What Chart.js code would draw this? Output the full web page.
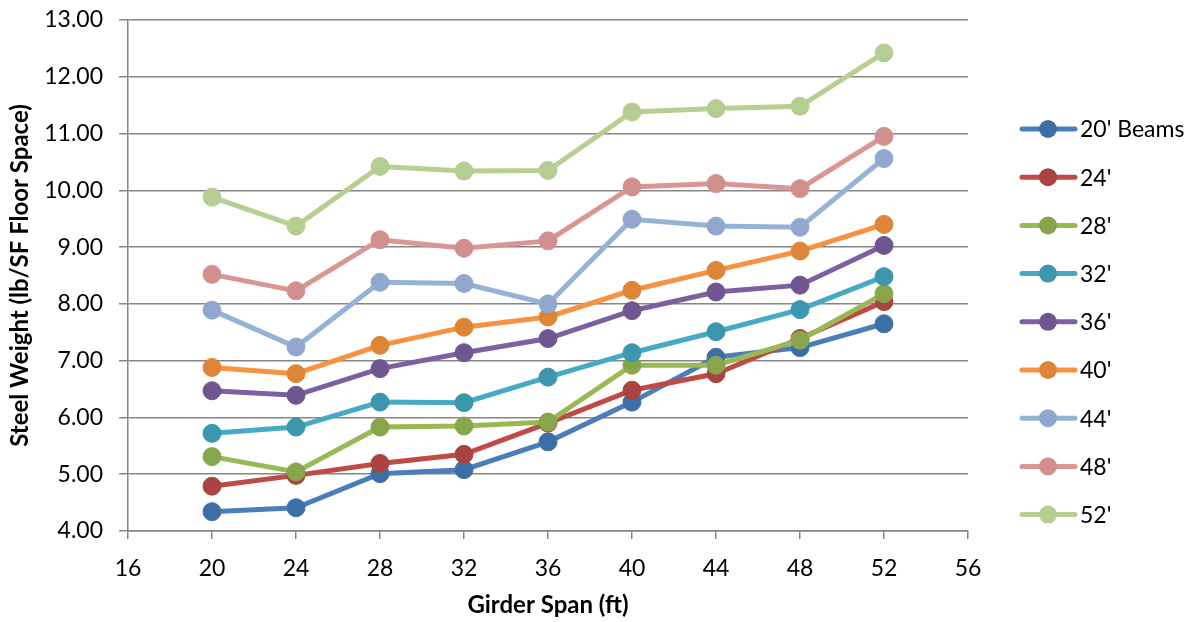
<!DOCTYPE html>
<html>
<head>
<meta charset="utf-8">
<script src="https://cdn.jsdelivr.net/npm/chart.js@4.4.0/dist/chart.umd.min.js"></script>
<style>
  body { margin: 0; background: #fff; }
  canvas { display: block; }
</style>
</head>
<body>
<canvas id="steelChart" width="1200" height="622"></canvas>
<script>
// girder spans (x values)
var spans = [20, 24, 28, 32, 36, 40, 44, 48, 52];

// steel weight per beam span series
var beams20 = [4.34, 4.41, 5.01, 5.08, 5.57, 6.27, 7.06, 7.23, 7.65];
var beams24 = [4.79, 4.98, 5.19, 5.35, 5.90, 6.48, 6.77, 7.39, 8.04];
var beams28 = [5.31, 5.04, 5.83, 5.85, 5.92, 6.92, 6.92, 7.36, 8.18];
var beams32 = [5.72, 5.83, 6.27, 6.26, 6.71, 7.14, 7.51, 7.90, 8.48];
var beams36 = [6.47, 6.39, 6.86, 7.14, 7.39, 7.88, 8.21, 8.33, 9.03];
var beams40 = [6.88, 6.77, 7.27, 7.59, 7.77, 8.24, 8.59, 8.93, 9.40];
var beams44 = [7.89, 7.24, 8.38, 8.36, 8.00, 9.49, 9.37, 9.35, 10.56];
var beams48 = [8.52, 8.23, 9.13, 8.98, 9.11, 10.06, 10.12, 10.03, 10.95];
var beams52 = [9.88, 9.37, 10.42, 10.34, 10.35, 11.38, 11.44, 11.48, 12.42];

var seriesNames = ["20' Beams", "24'", "28'", "32'", "36'", "40'", "44'", "48'", "52'"];
var seriesValues = [beams20, beams24, beams28, beams32, beams36, beams40, beams44, beams48, beams52];

var lineColors = ['#4a7ebb', '#be4b48', '#98b954', '#46aac5', '#7d60a0', '#f69240', '#95b3d7', '#d99694', '#b8cf92'];
var markerColors = ['#3d6ea5', '#a94441', '#87a54b', '#3c97ae', '#6f5690', '#df8538', '#91a7cf', '#d18f8e', '#b5cd91'];

var FONT = 'Lato, "Open Sans", sans-serif';

var datasets = seriesNames.map(function(name, i) {
    return {
        label: name,
        data: spans.map(function(x, j) { return { x: x, y: seriesValues[i][j] }; }),
        borderColor: lineColors[i],
        backgroundColor: markerColors[i],
        pointBackgroundColor: markerColors[i],
        pointBorderColor: markerColors[i],
        pointBorderWidth: 1,
        pointRadius: 9,
        borderWidth: 5,
        tension: 0,
        order: -i   // later series on top
    };
});

// legend drawn on the canvas: line + marker, like the spreadsheet legend
var sideLegend = {
    id: 'sideLegend',
    afterDraw: function(chart) {
        var ctx = chart.ctx;
        ctx.save();
        chart.data.datasets.forEach(function(ds, i) {
            var y = 129 + i * 48.2;
            ctx.strokeStyle = ds.borderColor;
            ctx.lineWidth = 5;
            ctx.lineCap = 'round';
            ctx.beginPath();
            ctx.moveTo(1022, y);
            ctx.lineTo(1075, y);
            ctx.stroke();
            ctx.fillStyle = ds.pointBackgroundColor;
            ctx.beginPath();
            ctx.arc(1048, y, 9, 0, Math.PI * 2);
            ctx.fill();
            ctx.fillStyle = '#000';
            ctx.font = '23px ' + FONT;
            ctx.textAlign = 'left';
            ctx.textBaseline = 'middle';
            ctx.fillText(ds.label, 1080, y + 1);
        });
        ctx.restore();
    }
};

new Chart(document.getElementById('steelChart').getContext('2d'), {
    type: 'line',
    data: { datasets: datasets },
    plugins: [sideLegend],
    options: {
        responsive: false,
        animation: false,
        devicePixelRatio: 1,
        layout: { padding: { top: 20, right: 232, left: 0, bottom: 0 } },
        plugins: {
            legend: { display: false },
            tooltip: { enabled: false }
        },
        scales: {
            x: {
                type: 'linear',
                min: 16,
                max: 56,
                afterFit: function(scale) { scale.height = 91; },
                ticks: { stepSize: 4, color: '#000', font: { family: FONT, size: 23 }, padding: 16 },
                grid: { drawOnChartArea: false, drawTicks: true, tickLength: 8, color: '#868686', lineWidth: 1.5 },
                border: { color: '#868686', width: 1.5 },
                title: {
                    display: true,
                    text: 'Girder Span (ft)',
                    color: '#000',
                    font: { family: FONT, size: 24, weight: 'bold' },
                    padding: { top: 4, bottom: 2 }
                }
            },
            y: {
                min: 4,
                max: 13,
                afterFit: function(scale) {
                    scale.width = 128;
                    // label overhang shouldn't push the plot down
                    scale.paddingTop = 0;
                    scale.paddingBottom = 0;
                },
                ticks: {
                    stepSize: 1,
                    color: '#000',
                    font: { family: FONT, size: 23 },
                    padding: 16,
                    callback: function(v) { return v.toFixed(2); }
                },
                grid: { color: '#868686', lineWidth: 1.5, tickLength: 9 },
                border: { color: '#868686', width: 1.5 },
                title: {
                    display: true,
                    text: 'Steel Weight (lb/SF Floor Space)',
                    color: '#000',
                    font: { family: FONT, size: 24, weight: 'bold' },
                    padding: { top: 6, bottom: 0 }
                }
            }
        }
    }
});
</script>
</body>
</html>
